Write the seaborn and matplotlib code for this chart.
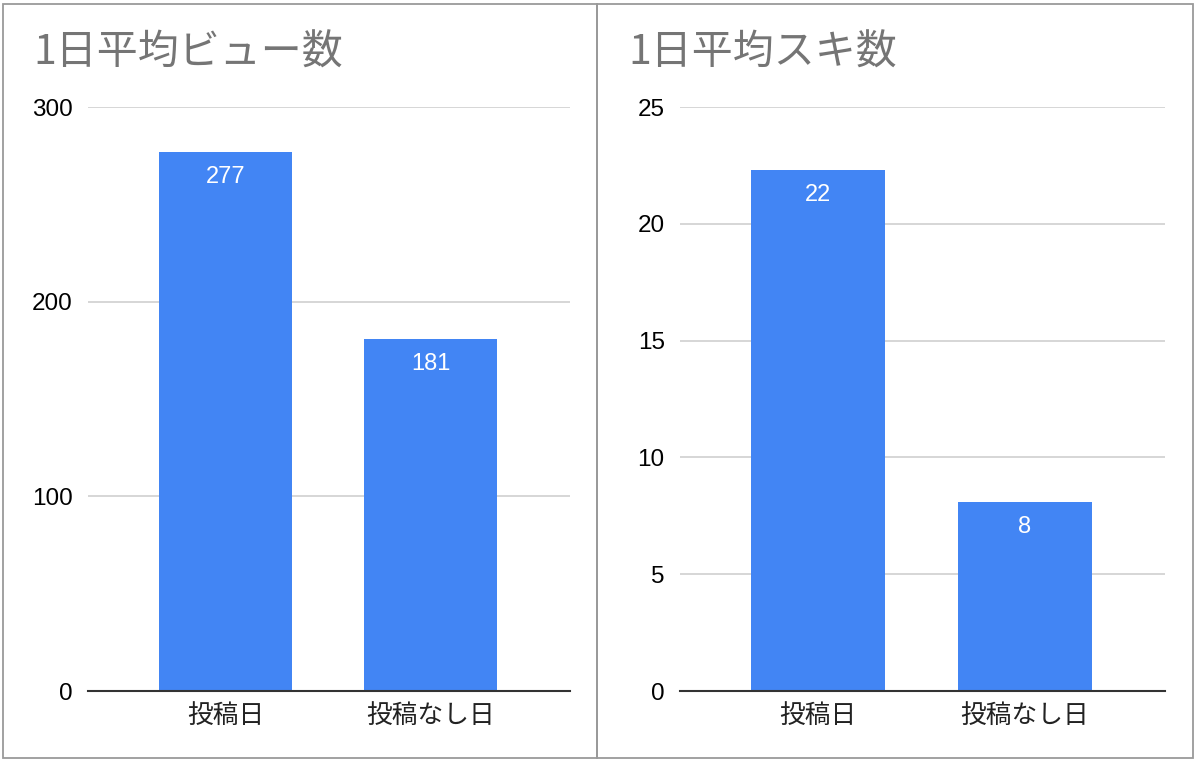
import matplotlib
matplotlib.use("Agg")
import matplotlib.pyplot as plt
import seaborn as sns
import pandas as pd
from matplotlib.patches import Rectangle

categories = ["投稿日", "投稿なし日"]
views = [277, 181]
likes = [22.3, 8.1]
titles = ["1日平均ビュー数", "1日平均スキ数"]
view_ticks = [0, 100, 200, 300]
like_ticks = [0, 5, 10, 15, 20, 25]

sns.set_theme(style="white")
plt.rcParams['font.family'] = ['Liberation Sans', 'Noto Sans CJK JP', 'DejaVu Sans']

BAR = "#4285F4"
fig = plt.figure(figsize=(12, 7.66), dpi=100)
W, H = 1200, 766

# panel borders
border_kw = dict(transform=fig.transFigure, fill=False, edgecolor="#9a9a9a", linewidth=1.3)
fig.patches.append(Rectangle((3 / W, 1 - 758 / H), (597 - 3) / W, (758 - 4) / H, **border_kw))
fig.patches.append(Rectangle((597 / W, 1 - 758 / H), (1193 - 597) / W, (758 - 4) / H, **border_kw))

panels = [
    (views, view_ticks, titles[0], (88, 570), 33),
    (likes, like_ticks, titles[1], (680, 1165), 628),
]

for vals, ticks, title, (x0, x1), tx in panels:
    ax = fig.add_axes([x0 / W, 1 - 691 / H, (x1 - x0) / W, 584 / H])
    df = pd.DataFrame({"cat": categories, "val": vals})
    sns.barplot(data=df, x="cat", y="val", color=BAR, saturation=1, width=0.65, ax=ax)
    for p in ax.patches:
        p.set_edgecolor("none")
    ax.set_xlim(-0.67, 1.68)
    ax.set_ylim(ticks[0], ticks[-1])
    ax.set_yticks(ticks)
    ax.set_yticklabels([str(t) for t in ticks])
    ax.set_xlabel("")
    ax.set_ylabel("")
    for s in ["top", "right", "left"]:
        ax.spines[s].set_visible(False)
    ax.spines["bottom"].set_color("#333333")
    ax.spines["bottom"].set_linewidth(1.5)
    ax.spines["bottom"].set_zorder(5)
    ax.yaxis.grid(True, color="#cccccc", linewidth=1.1)
    ax.xaxis.grid(False)
    ax.set_axisbelow(True)
    ax.tick_params(axis="y", length=0, pad=11, labelsize=17.5, labelcolor="#000000")
    ax.tick_params(axis="x", length=0, pad=9, labelsize=18.5, labelcolor="#222222")
    ax.bar_label(ax.containers[0], fmt="%.0f", padding=-26, color="white", fontsize=17)
    fig.text(tx / W, 1 - 53 / H, title, fontsize=29.5, color="#757575", va="center", ha="left",
             family=['Noto Sans CJK JP', 'DejaVu Sans'])

fig.savefig("out.png", dpi=100)
